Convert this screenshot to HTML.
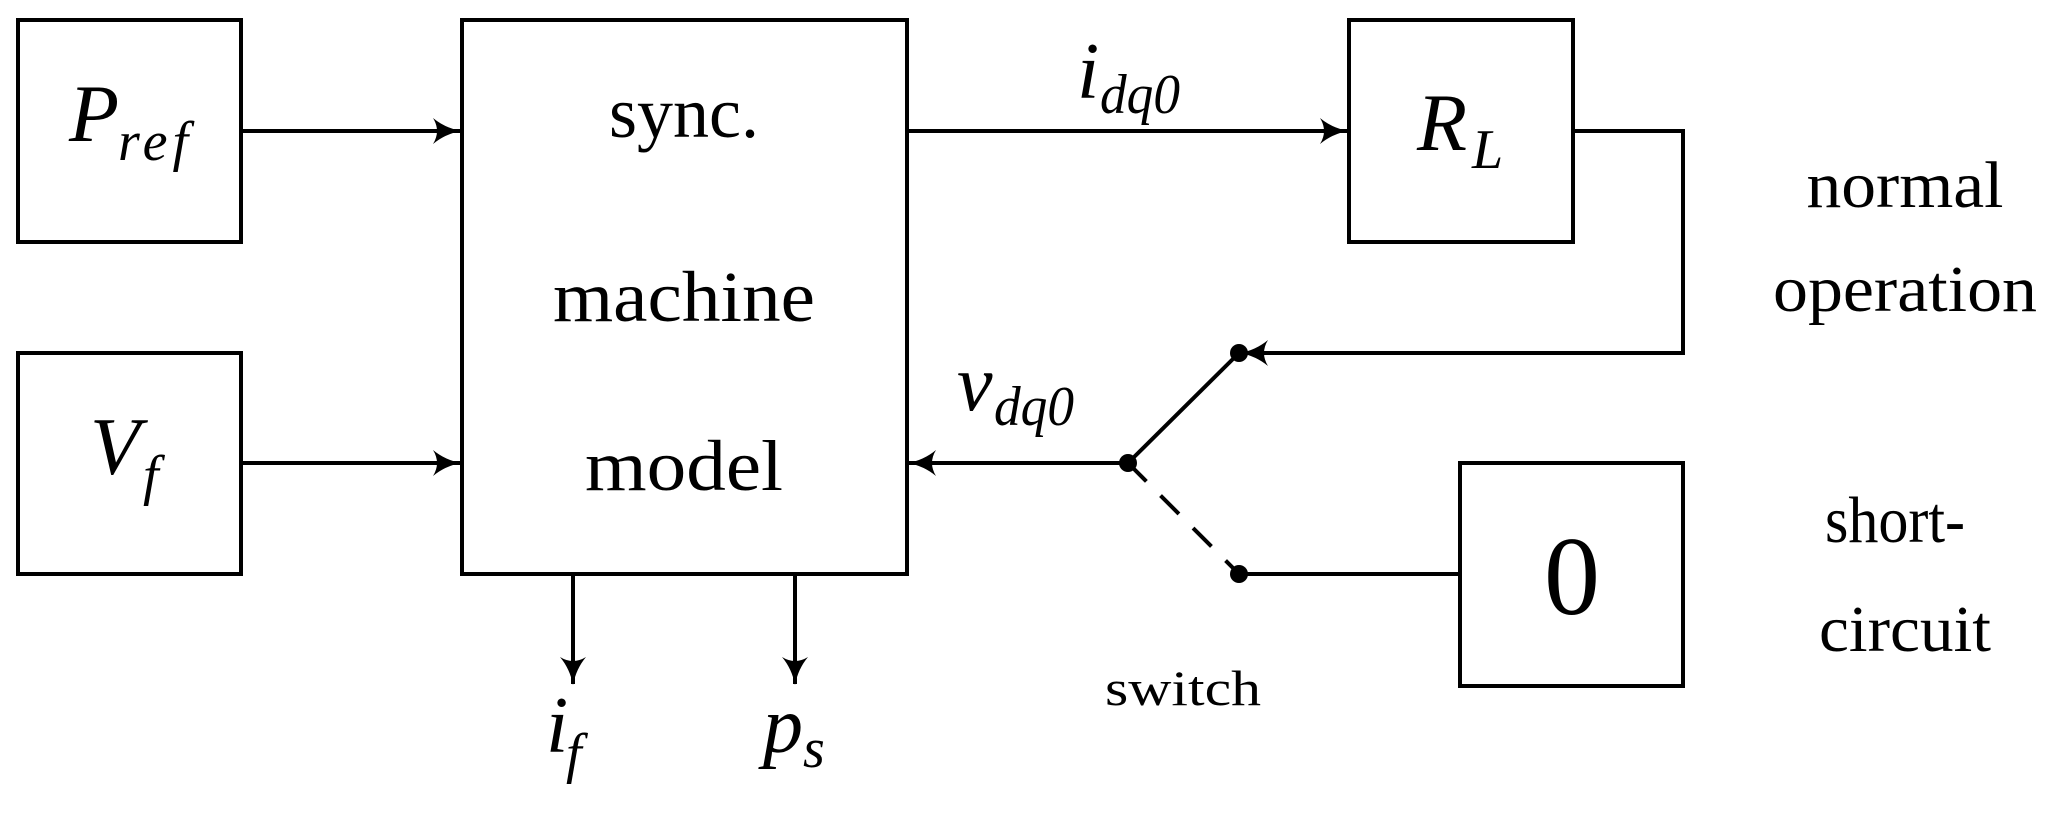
<!DOCTYPE html>
<html><head><meta charset="utf-8"><style>
html,body{margin:0;padding:0;background:#fff;}
svg{display:block;}
text{font-family:"Liberation Serif",serif;fill:#000;}
.it{font-style:italic;}
</style></head><body>
<svg width="2062" height="813" viewBox="0 0 2062 813" xmlns="http://www.w3.org/2000/svg">
<defs>
<marker id="b" markerWidth="30" markerHeight="30" refX="27" refY="15" orient="auto" markerUnits="userSpaceOnUse">
<path d="M0,2 Q12,12 28,15 Q12,18 0,28 Q8,15 0,2Z" fill="#000"/>
</marker>
</defs>
<g fill="none" stroke="#000" stroke-width="4">
<rect x="18" y="20" width="223" height="222"/>
<rect x="18" y="353" width="223" height="221"/>
<rect x="462" y="20" width="445" height="554"/>
<rect x="1349" y="20" width="224" height="222"/>
<rect x="1460" y="463" width="223" height="223"/>
<line x1="241" y1="131" x2="460" y2="131" marker-end="url(#b)"/>
<line x1="241" y1="463" x2="460" y2="463" marker-end="url(#b)"/>
<line x1="907" y1="131" x2="1347" y2="131" marker-end="url(#b)"/>
<line x1="573" y1="574" x2="573" y2="684" marker-end="url(#b)"/>
<line x1="795" y1="574" x2="795" y2="684" marker-end="url(#b)"/>
<polyline points="1573,131 1683,131 1683,353 1241,353" marker-end="url(#b)"/>
<line x1="1128" y1="463" x2="909" y2="463" marker-end="url(#b)"/>
<line x1="1128" y1="463" x2="1239" y2="353"/>
<line x1="1128" y1="463" x2="1239" y2="574" stroke-dasharray="26,20"/>
<line x1="1239" y1="574" x2="1460" y2="574"/>
</g>
<circle cx="1239" cy="353" r="9"/>
<circle cx="1128" cy="463" r="9"/>
<circle cx="1239" cy="574" r="9"/>

<text x="69" y="141" font-size="82" class="it">P</text>
<text x="118" y="160" font-size="56" class="it" textLength="70" lengthAdjust="spacing">ref</text>
<text x="90" y="474" font-size="82" class="it">V</text>
<text x="143" y="494" font-size="56" class="it">f</text>

<text x="684" y="137" font-size="72" text-anchor="middle">sync.</text>
<text x="684" y="321" font-size="72" text-anchor="middle" textLength="262" lengthAdjust="spacingAndGlyphs">machine</text>
<text x="684" y="490" font-size="72" text-anchor="middle" textLength="198" lengthAdjust="spacingAndGlyphs">model</text>

<text x="546" y="752" font-size="80" class="it">i</text>
<text x="566" y="772" font-size="56" class="it">f</text>
<text x="763" y="752" font-size="80" class="it">p</text>
<text x="803" y="767" font-size="56" class="it">s</text>

<text x="1077" y="98" font-size="80" class="it">i</text>
<text x="1100" y="113" font-size="56" class="it" textLength="80" lengthAdjust="spacingAndGlyphs">dq0</text>
<text x="957" y="410" font-size="80" class="it">v</text>
<text x="994" y="425" font-size="56" class="it" textLength="80" lengthAdjust="spacingAndGlyphs">dq0</text>

<text x="1417" y="150" font-size="82" class="it">R</text>
<text x="1472" y="168" font-size="56" class="it">L</text>
<text x="1572" y="614" font-size="112" text-anchor="middle">0</text>

<text x="1183" y="705" font-size="50" text-anchor="middle" textLength="156" lengthAdjust="spacingAndGlyphs">switch</text>
<text x="1905" y="207" font-size="66" text-anchor="middle" textLength="197" lengthAdjust="spacingAndGlyphs">normal</text>
<text x="1905" y="311" font-size="66" text-anchor="middle" textLength="264" lengthAdjust="spacingAndGlyphs">operation</text>
<text x="1895" y="542" font-size="66" text-anchor="middle" textLength="140" lengthAdjust="spacingAndGlyphs">short-</text>
<text x="1905" y="651" font-size="66" text-anchor="middle" textLength="172" lengthAdjust="spacingAndGlyphs">circuit</text>
</svg>
</body></html>
